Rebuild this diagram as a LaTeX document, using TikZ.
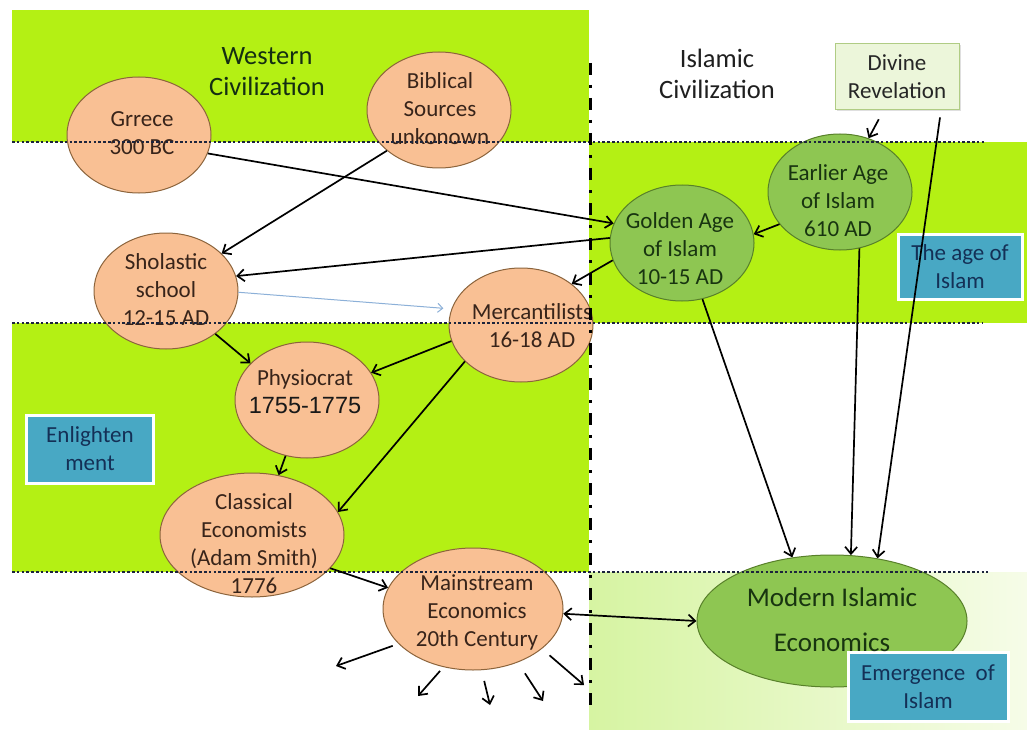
\documentclass[tikz,border=0pt]{standalone}
\usepackage{fontspec}
\setmainfont{Carlito}
\newfontfamily\arialfont{Liberation Sans}
\usetikzlibrary{shapes.geometric,arrows.meta,shadows,calc}

\definecolor{limeband}{RGB}{180,240,20}
\definecolor{paleL}{RGB}{214,244,162}
\definecolor{paleR}{RGB}{246,252,232}
\definecolor{peachF}{RGB}{249,192,148}
\definecolor{peachB}{RGB}{140,100,60}
\definecolor{brownT}{RGB}{56,36,26}
\definecolor{greenF}{RGB}{142,198,82}
\definecolor{greenB}{RGB}{88,128,42}
\definecolor{greenT}{RGB}{24,52,16}
\definecolor{headT}{RGB}{20,46,18}
\definecolor{blueF}{RGB}{72,168,196}
\definecolor{navyT}{RGB}{20,48,86}
\definecolor{divF}{RGB}{236,246,218}
\definecolor{divB}{RGB}{176,204,132}
\definecolor{dotC}{RGB}{28,36,60}
\definecolor{thinblue}{RGB}{140,176,216}

\begin{document}
\begin{tikzpicture}[x=1pt,y=-1pt,
  peachell/.style={ellipse, draw=peachB, fill=peachF, line width=1pt, inner sep=0pt},
  greenell/.style={ellipse, draw=greenB, fill=greenF, line width=1pt, inner sep=0pt},
  ellT/.style={align=center, font=\fontsize{23}{28}\selectfont, text=brownT, inner sep=0pt},
  grT/.style={align=center, font=\fontsize{23}{28}\selectfont, text=greenT, inner sep=0pt},
  headtext/.style={align=center, font=\fontsize{26.5}{31}\selectfont, inner sep=0pt},
  bluebox/.style={draw=white, line width=3pt, fill=blueF, align=center,
    font=\fontsize{23}{28}\selectfont, text=navyT, inner sep=0pt,
    drop shadow={shadow xshift=1.5pt, shadow yshift=-1.5pt, opacity=0.35}},
  divbox/.style={draw=divB, line width=1pt, fill=divF, align=center,
    font=\fontsize{23}{28}\selectfont, text=black!85, inner sep=0pt,
    drop shadow={shadow xshift=1.5pt, shadow yshift=-1.5pt, opacity=0.25}},
  dotline/.style={dotC, line width=2.6pt, dash pattern=on 2.6pt off 2.2pt},
  dashdot/.style={black, line width=3pt, dash pattern=on 12pt off 10pt on 3pt off 10pt},
  arr/.style={black, line width=1.7pt, -{Straight Barb[length=7pt,width=12pt]}},
  darr/.style={black, line width=1.7pt, {Straight Barb[length=7pt,width=12pt]}-{Straight Barb[length=7pt,width=12pt]}},
  thinarr/.style={thinblue, line width=1pt, -{Straight Barb[length=5pt,width=9pt]}}
]
\useasboundingbox (0,0) rectangle (1027,730);
\fill[white] (0,0) rectangle (1027,730);

% coloured bands
\fill[limeband] (12,10) rectangle (589,142);
\fill[limeband] (589,142) rectangle (1027,323);
\fill[limeband] (12,323) rectangle (589,572);
\shade[left color=paleL, right color=paleR] (589,572) rectangle (1027,730);

% headings
\node[headtext, text=headT] (westT) at (267,72) {Western\\Civilization};
\node[headtext, text=black!88] (islT) at (717,74) {Islamic\\Civilization};

% ellipses
\node[peachell, minimum width=144pt, minimum height=116pt] (greece) at (139,135) {};
\node[peachell, minimum width=144pt, minimum height=116pt] (bib) at (439,110) {};
\node[peachell, minimum width=144pt, minimum height=116pt] (sho) at (166,291) {};
\node[peachell, minimum width=144pt, minimum height=114pt] (merc) at (521,325) {};
\node[peachell, minimum width=144pt, minimum height=116pt] (phys) at (307,400) {};
\node[peachell, minimum width=184pt, minimum height=124pt] (class) at (252,535) {};
\node[peachell, minimum width=180pt, minimum height=122pt] (main) at (473,609) {};
\node[greenell, minimum width=144pt, minimum height=116pt] (golden) at (682,243) {};
\node[greenell, minimum width=144pt, minimum height=116pt] (earlier) at (840,192) {};
\node[greenell, minimum width=270pt, minimum height=132pt] (modern) at (832,621) {};

% boxes
\node[divbox, minimum width=124pt, minimum height=66pt] (div) at (897,77) {Divine\\Revelation};
\node[bluebox, minimum width=124pt, minimum height=65pt] (ageisl) at (960,267) {The age of\\Islam};
\node[bluebox, minimum width=127pt, minimum height=68pt] (enl) at (90,449) {Enlighten\\ment};
\node[bluebox, minimum width=160pt, minimum height=69pt] (emer) at (928,687) {Emergence\ \ of\\Islam};

% ellipse texts
\node[ellT] (greeceT) at (142,133) {Grrece\\300 BC};
\node[ellT] (bibT) at (440,109) {Biblical\\Sources\\unkonown};
\node[ellT] (shoT) at (166,290) {Sholastic\\school\\12-15 AD};
\node[ellT] (mercT) at (532,326) {Mercantilists\\16-18 AD};
\node[ellT] (physT) at (305,392) {Physiocrat\\{\arialfont\fontsize{23.5}{28}\selectfont\color{black!90}1755-1775}};
\node[ellT] (classT) at (254,544) {Classical\\Economists\\(Adam Smith)\\1776};
\node[ellT] (mainT) at (477,612) {Mainstream\\Economics\\20th Century};
\node[grT] (goldenT) at (680,249) {Golden Age\\of Islam\\10-15 AD};
\node[grT] (earlierT) at (838,201) {Earlier Age\\of Islam\\610 AD};
\node[grT, font=\fontsize{27}{45}\selectfont] (modernT) at (832,620) {Modern Islamic\\Economics};

% period boundaries
\draw[dotline] (12,142) -- (985,142);
\draw[dotline] (12,323) -- (982,323);
\draw[dotline] (12,572) -- (988,572);
\draw[dashdot] (590,63) -- (590,705);

% influences
\draw[arr] (greece.-15) -- (golden.164);
\draw[arr] (bib.218) -- (sho.34);
\draw[arr] (golden.176) -- (sho.12.5);
\draw[thinarr, shorten >=8pt] (sho.-1) -- (merc.167);
\draw[arr] (golden.-166) -- (merc.39.5);
\draw[arr] (earlier.208) -- (golden.7);
\draw[arr, shorten <=10pt] ($(div.south)+(-13.5,0)$) -- (earlier.62.6);
\draw[arr, shorten <=7pt] ($(div.south)+(44,0)$) -- (modern.54);
\draw[arr] (earlier.-71) -- (modern.74);
\draw[arr] (golden.-70) -- (modern.122);
\draw[arr] (sho.-41) -- (phys.147);
\draw[arr] (merc.-167) -- (phys.23);
\draw[arr] (merc.-147.5) -- (class.15.5);
\draw[arr] (phys.-111) -- (class.66.6);
\draw[arr] (class.-23) -- (main.166);
\draw[darr] (main.-3.7) -- (modern.180);

% spreading outward from mainstream economics
\coordinate (fa) at (336,666);
\coordinate (fb) at (418,696);
\coordinate (fc) at (490,705);
\coordinate (fd) at (543,701);
\coordinate (fe) at (584,685);
\draw[arr, shorten <=6pt] (main.-155) -- (fa);
\draw[arr, shorten <=5pt] (main.-117.6) -- (fb);
\draw[arr, shorten <=11pt] (main.-82) -- (fc);
\draw[arr, shorten <=13pt] (main.-50) -- (fd);
\draw[arr, shorten <=10pt] (main.-30.9) -- (fe);
\end{tikzpicture}
\end{document}
